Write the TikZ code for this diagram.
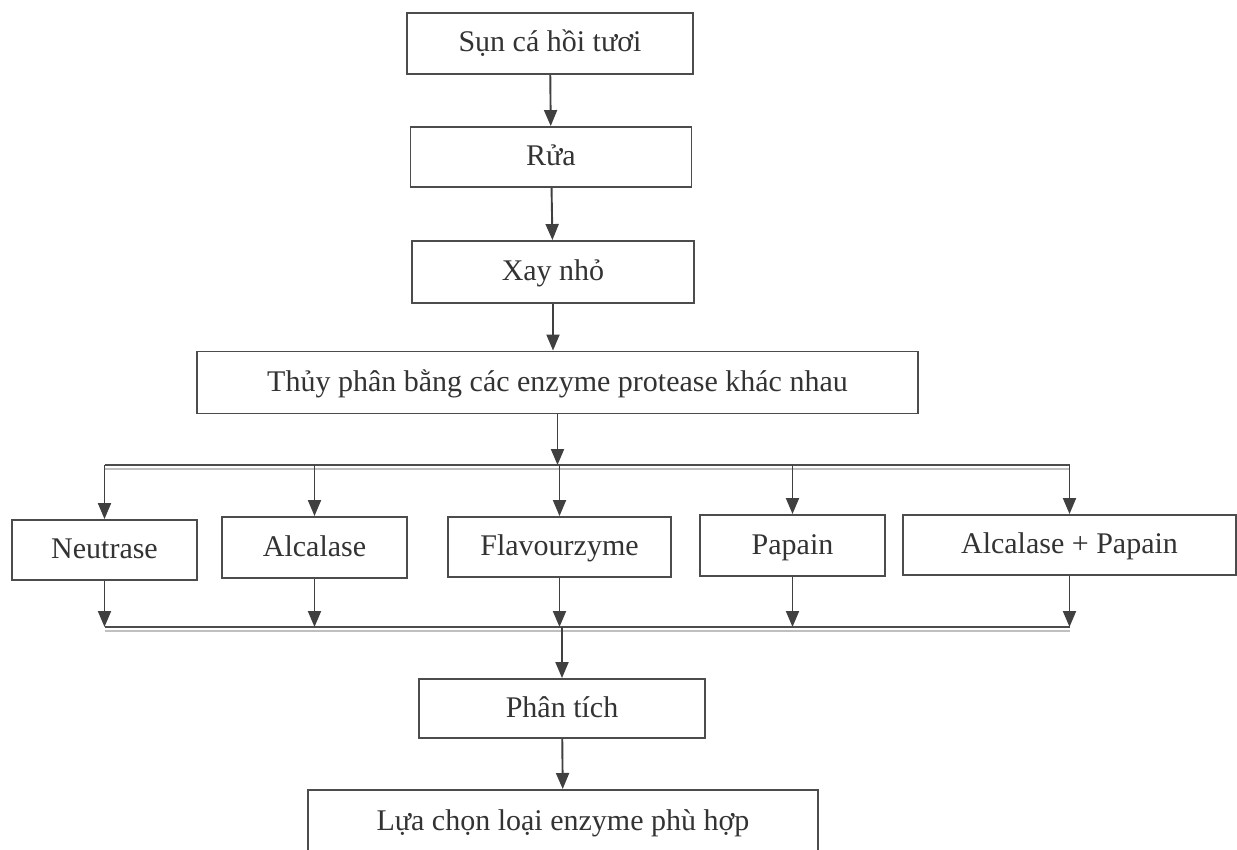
\documentclass[tikz,border=0pt]{standalone}
\usepackage{fontspec}
\setmainfont{Liberation Serif}
\usetikzlibrary{arrows.meta}

\begin{document}
\begin{tikzpicture}[x=1pt, y=-1pt,
  box/.style={draw=black!70, line width=1.9pt, inner sep=0pt, text=black!80,
    text height=20pt, text depth=3pt, font=\fontsize{30}{35}\selectfont},
  arr/.style={draw=black!75, line width=1.9pt, -{Triangle[length=16pt,width=13pt]}},
  bar/.style={draw=black!70, line width=1.9pt},
  barshade/.style={draw=black!25, line width=1.5pt}]
\clip (0,0) rectangle (1237,850);
\fill[white] (0,0) rectangle (1237,850);
% main chain
\node[box, minimum width=286pt, minimum height=61pt] (raw) at (550,43.5) {Sụn cá hồi tươi};
\node[box, minimum width=281pt, minimum height=60pt] (rua) at (551,157) {Rửa};
\node[box, minimum width=282pt, minimum height=62pt] (xay) at (553,272) {Xay nhỏ};
\node[box, minimum width=721pt, minimum height=62pt] (thuy) at (557.5,382.5) {Thủy phân bằng các enzyme protease khác nhau};
% enzymes
\node[box, minimum width=185pt, minimum height=60pt] (neu) at (104.5,550) {Neutrase};
\node[box, minimum width=185pt, minimum height=61pt] (alc) at (314.5,547.5) {Alcalase};
\node[box, minimum width=223pt, minimum height=60pt] (fla) at (559.5,547) {Flavourzyme};
\node[box, minimum width=185pt, minimum height=61pt] (pap) at (792.5,545.5) {Papain};
\node[box, minimum width=333pt, minimum height=60pt] (ap) at (1069.5,545) {Alcalase + Papain};
% end of the chain
\node[box, minimum width=286pt, minimum height=59pt] (phan) at (562,708.5) {Phân tích};
\node[box, minimum width=510pt, minimum height=64pt, anchor=north] (lua) at (563,789) {Lựa chọn loại enzyme phù hợp};
% bars
\coordinate (tl) at (104.5,465);
\coordinate (bl) at (104.5,627);
\draw[barshade] ([yshift=-4pt]neu.north |- tl) -- ([yshift=-4pt]ap.north |- tl);
\draw[bar] (neu.north |- tl) -- (ap.north |- tl);
\draw[barshade] ([yshift=-4pt]neu.south |- bl) -- ([yshift=-4pt]ap.south |- bl);
\draw[bar] (neu.south |- bl) -- (ap.south |- bl);
% arrows
\draw[arr] (raw) -- (rua);
\draw[arr] (rua) -- (xay);
\draw[arr] (xay.south) -- (xay.south |- thuy.north);
\draw[arr] (thuy.south) -- (thuy.south |- tl);
\foreach \e in {neu,alc,fla,pap,ap} {
  \draw[arr] (\e.north |- tl) -- (\e.north);
  \draw[arr] (\e.south) -- (\e.south |- bl);
}
\draw[arr] (phan.north |- bl) -- (phan.north);
\draw[arr] (phan) -- (lua);
\end{tikzpicture}
\end{document}
